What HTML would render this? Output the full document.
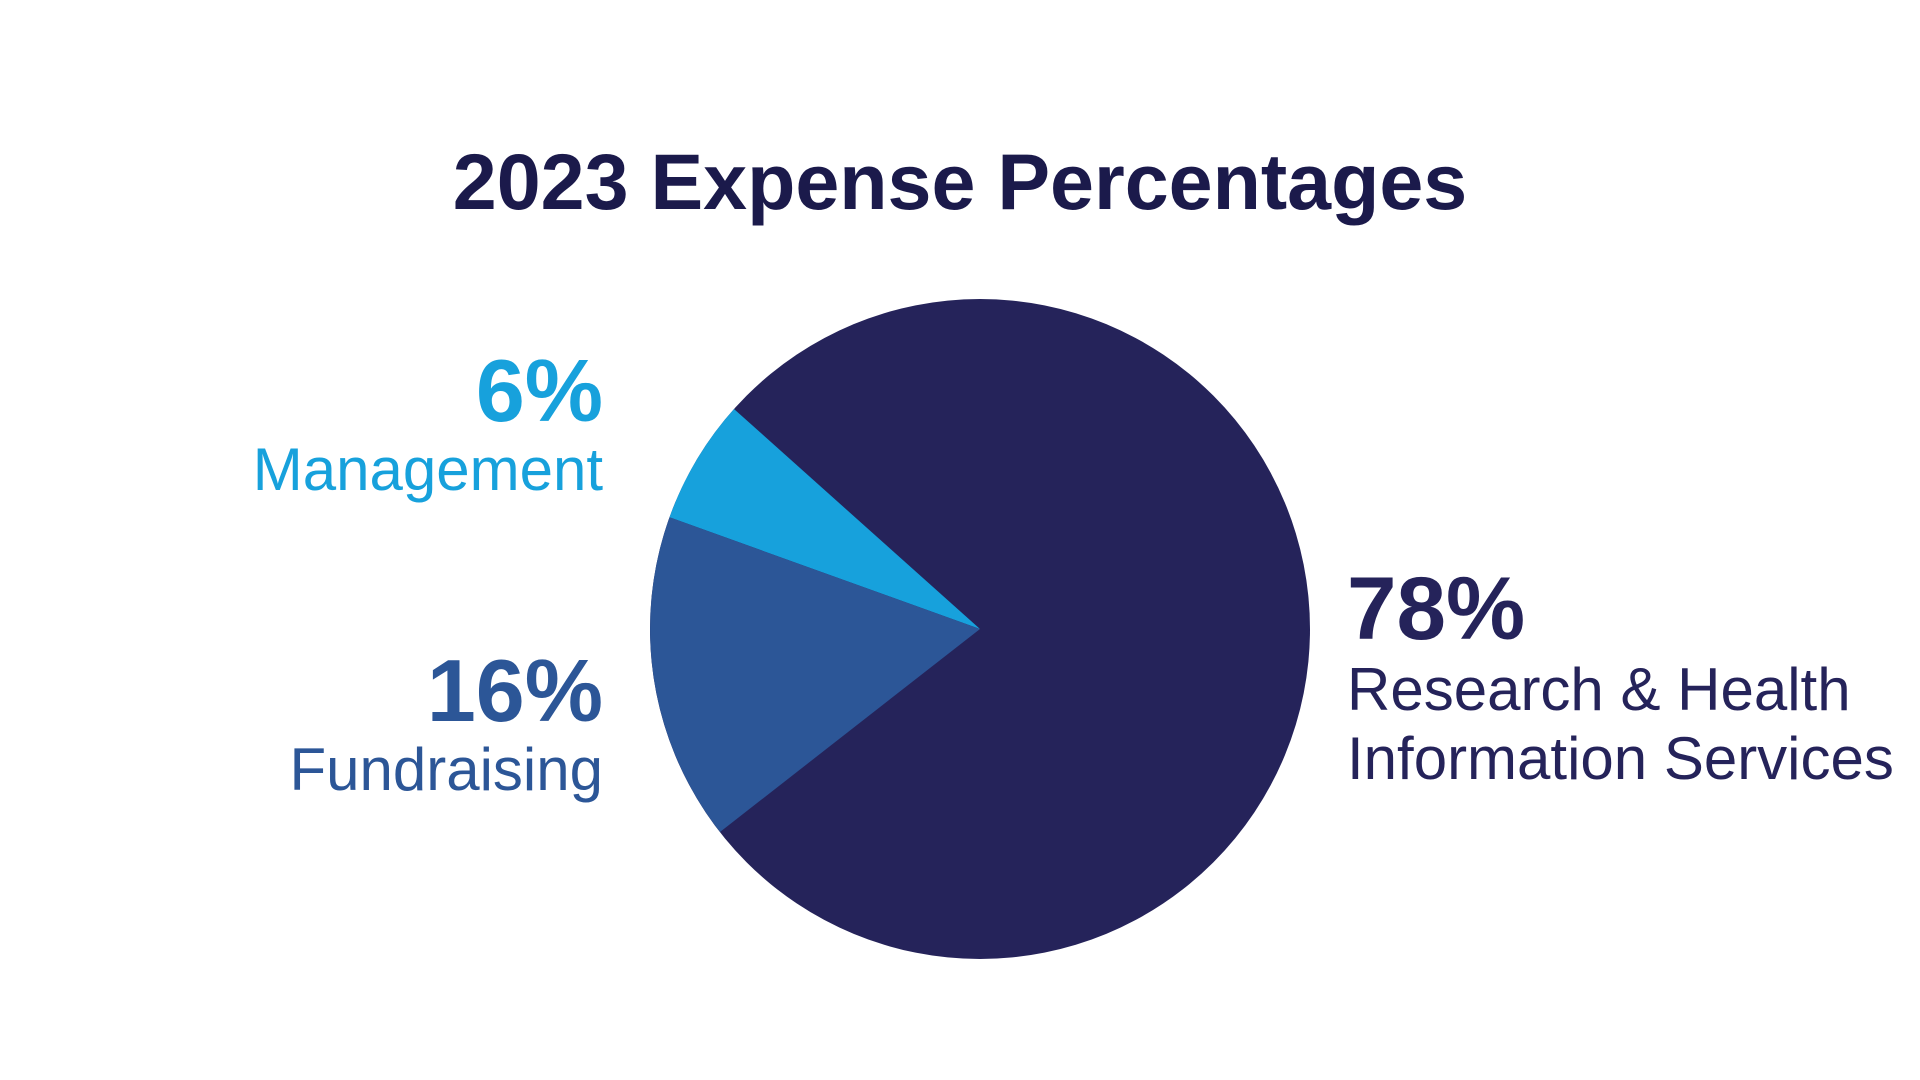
<!DOCTYPE html>
<html><head><meta charset="utf-8"><style>
html,body{margin:0;padding:0;background:#fff;}
svg{display:block;}
</style></head><body>
<svg width="1920" height="1080" viewBox="0 0 1920 1080" xmlns="http://www.w3.org/2000/svg" font-family="Liberation Sans, sans-serif">
<rect width="1920" height="1080" fill="#fff"/>
<text x="960" y="209" text-anchor="middle" font-size="79" font-weight="bold" fill="#1b1a4b">2023 Expense Percentages</text>
<circle cx="980" cy="629" r="330" fill="#25235a"/>
<path d="M980 629 L734 409 A330 330 0 0 0 669.5 517.3 Z" fill="#17a1dc"/>
<path d="M980 629 L669.5 517.3 A330 330 0 0 0 720 832 Z" fill="#2c5697"/>
<text x="603" y="421" text-anchor="end" font-size="88" font-weight="bold" fill="#17a1dc">6%</text>
<text x="603" y="490" text-anchor="end" font-size="60" fill="#17a1dc">Management</text>
<text x="603" y="721" text-anchor="end" font-size="88" font-weight="bold" fill="#2c5697">16%</text>
<text x="603" y="790" text-anchor="end" font-size="60" fill="#2c5697">Fundraising</text>
<text x="1347" y="639" font-size="89" font-weight="bold" fill="#25235a">78%</text>
<text x="1347" y="710" font-size="60" fill="#25235a">Research &amp; Health</text>
<text x="1347" y="779" font-size="60" fill="#25235a">Information Services</text>
</svg>
</body></html>
